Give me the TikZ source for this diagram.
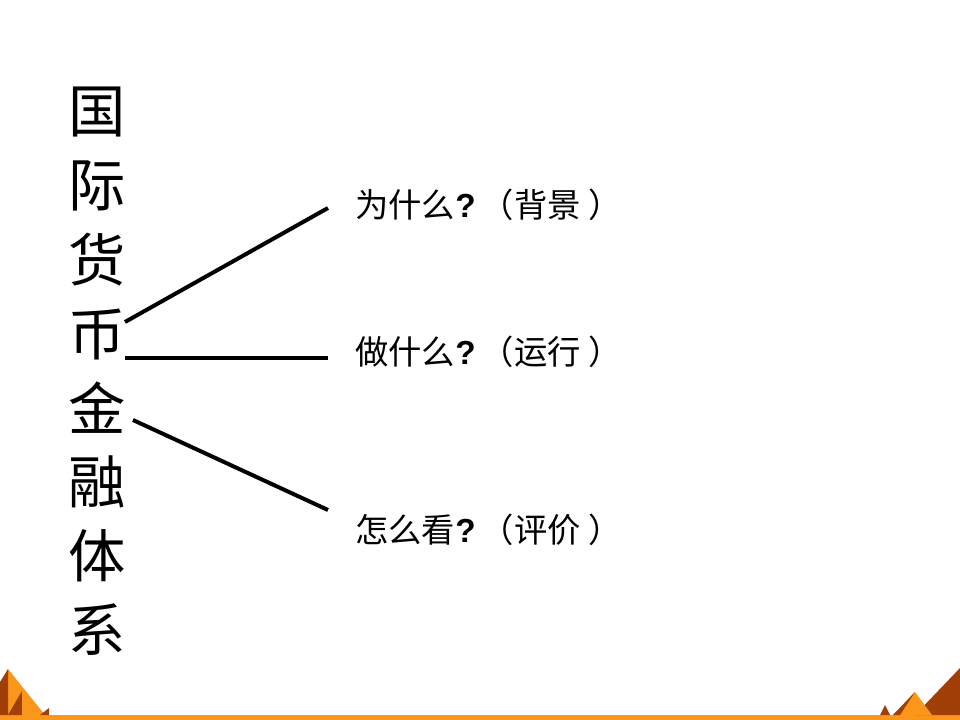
\documentclass[tikz,border=0pt]{standalone}
\usepackage{fontspec}
\newfontfamily\cjk{Noto Sans CJK SC}
\setmainfont{Liberation Sans}
\usetikzlibrary{positioning}
\definecolor{darkorange}{RGB}{160,64,8}
\definecolor{lightorange}{RGB}{250,150,25}
\newcommand{\qm}{{\rmfamily\bfseries ?}}
\tikzset{
  title/.style={anchor=center,inner sep=0pt,font=\cjk\fontsize{43}{43}\selectfont},
  item/.style={anchor=west,inner sep=0pt,font=\cjk\fontsize{25}{25}\selectfont},
  branch/.style={line width=3pt}
}
\begin{document}
\begin{tikzpicture}[x=0.75pt,y=0.75pt,yscale=-1,xscale=1]
\useasboundingbox (0,0) rectangle (960,720);
% vertical title
\foreach \c [count=\i] in {国,际,货,币,金,融,体,系}
  \node[title] (t\i) at (97,{112+(\i-1)*74}) {\c};
% branch labels
\node[item] (why) at (355,205) {为什么\qm\hspace{4pt}（背景\hspace{6pt}）};
\node[item] (what) at (355,352) {做什么\qm\hspace{4pt}（运行\hspace{6pt}）};
\node[item] (how) at (355,530) {怎么看\qm\hspace{4pt}（评价\hspace{6pt}）};
\coordinate (a1) at (125,322);
\coordinate (a2) at (125,358);
\coordinate (a3) at (133,420);
\draw[branch] (a1) -- (328,208);
\draw[branch] (a2) -- (328,358);
\draw[branch] (a3) -- (328,510);
% bottom decoration
\fill[lightorange] (0,715) rectangle (960,720);
\fill[lightorange] (8,669) -- (45,715) -- (0,715) -- cycle;
\fill[darkorange] (0,682) -- (8,669) -- (8,715) -- (0,715) -- cycle;
\fill[darkorange] (8,715) -- (22,691) -- (22,715) -- cycle;
\fill[lightorange] (22,691) -- (40,715) -- (22,715) -- cycle;
\fill[darkorange] (40,715) -- (49,708) -- (49,715) -- cycle;
\fill[lightorange] (960,668) -- (960,715) -- (925,715) -- cycle;
\fill[darkorange] (960,668) -- (915,715) -- (960,715) -- cycle;
\fill[lightorange] (915,692) -- (932,715) -- (893,715) -- cycle;
\fill[darkorange] (915,692) -- (900,715) -- (893,715) -- cycle;
\fill[darkorange] (880,715) -- (885,705) -- (890,715) -- cycle;
\end{tikzpicture}
\end{document}
